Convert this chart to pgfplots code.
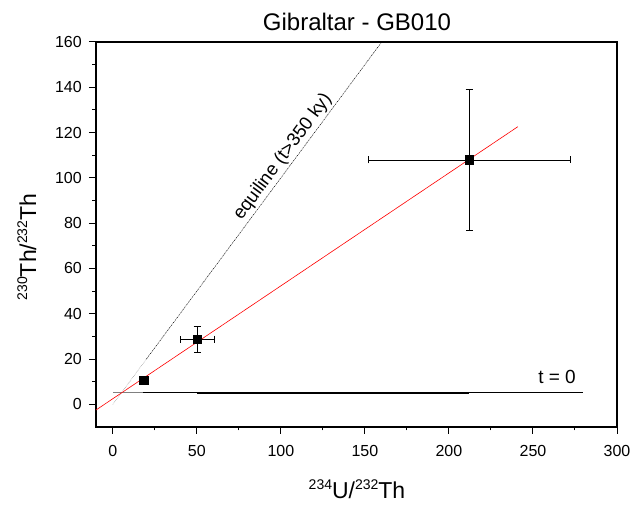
\documentclass[border=0pt]{standalone}
\usepackage{pgfplots}
\pgfplotsset{compat=1.18}
\usepackage{fontspec}
\setmainfont{Liberation Sans}
\newcommand{\sups}[1]{\raisebox{9pt}{\fontsize{14}{16}\selectfont #1}}
\begin{document}
\begin{tikzpicture}
\useasboundingbox (0pt,0pt) rectangle (632pt,505pt);
\begin{axis}[
  at={(96pt,78pt)}, anchor=south west, scale only axis,
  width=521pt, height=385pt,
  xmin=-10, xmax=300, ymin=-10, ymax=160,
  xtick={0,50,...,300}, ytick={0,20,...,160},
  minor x tick num=1, minor y tick num=1,
  xtick pos=left, ytick pos=left, tick align=outside,
  major tick length=7pt, minor tick length=3.5pt,
  tick style={black, line width=1pt},
  axis line style={line width=1.3pt},
  /pgf/number format/assume math mode=true,
  ticklabel style={font=\fontsize{16}{19}\selectfont},
  xticklabel style={anchor=base, inner sep=0pt, yshift=-23pt},
  yticklabel style={anchor=east, inner sep=0pt, xshift=-7pt},
  clip=false,
]
% t = 0 line
\addplot[gray, line width=0.9pt] coordinates {(0,5.2) (280,5.2)};
\addplot[black, line width=1.6pt] coordinates {(18,5.2) (280,5.2)};
\addplot[black, line width=2pt] coordinates {(50,5.2) (212,5.2)};
% equiline
\addplot[gray, densely dotted, line width=0.5pt] coordinates {(0,0) (20,20)};
\addplot[black, line width=0.5pt, dash pattern=on 1.2pt off 0.8pt on 0.4pt off 0.8pt]
  coordinates {(20,20) (160,160)}
  node[pos=0.617, sloped, above, inner sep=2pt, font=\fontsize{18.5}{20}\selectfont, black] {equiline (t>350 ky)};
% data points
\addplot[only marks, mark=square*, mark size=4.4pt, black,
  error bars/.cd, x dir=both, x explicit, y dir=both, y explicit,
  error bar style={black, line width=0.8pt},
  error mark options={black, line width=0.8pt, rotate=90, mark size=3.5pt}]
  table[x=x, y=y, x error=ex, y error=ey] {
  x y ex ey
  50.2 28.8 10 5.7
  212 107.9 60.2 31
  };
\addplot[only marks, mark=square*, mark size=4.4pt, black] coordinates {(18.3,10.7)};
% isochron fit
\addplot[red, line width=0.6pt] coordinates {(-10,-2.5) (241,122.6)};
\node[anchor=base east, font=\fontsize{19}{22}\selectfont] at (axis cs:277.6,9) {t = 0};
\end{axis}
\node[anchor=base, font=\fontsize{24}{27}\selectfont] at (357pt,474pt) {Gibraltar - GB010};
\node[anchor=base, font=\fontsize{23}{26}\selectfont] at (357pt,6pt) {\sups{234}U/\sups{232}Th};
\node[anchor=base, rotate=90, font=\fontsize{23}{26}\selectfont] at (36pt,258pt) {\sups{230}Th/\sups{232}Th};
\end{tikzpicture}
\end{document}
